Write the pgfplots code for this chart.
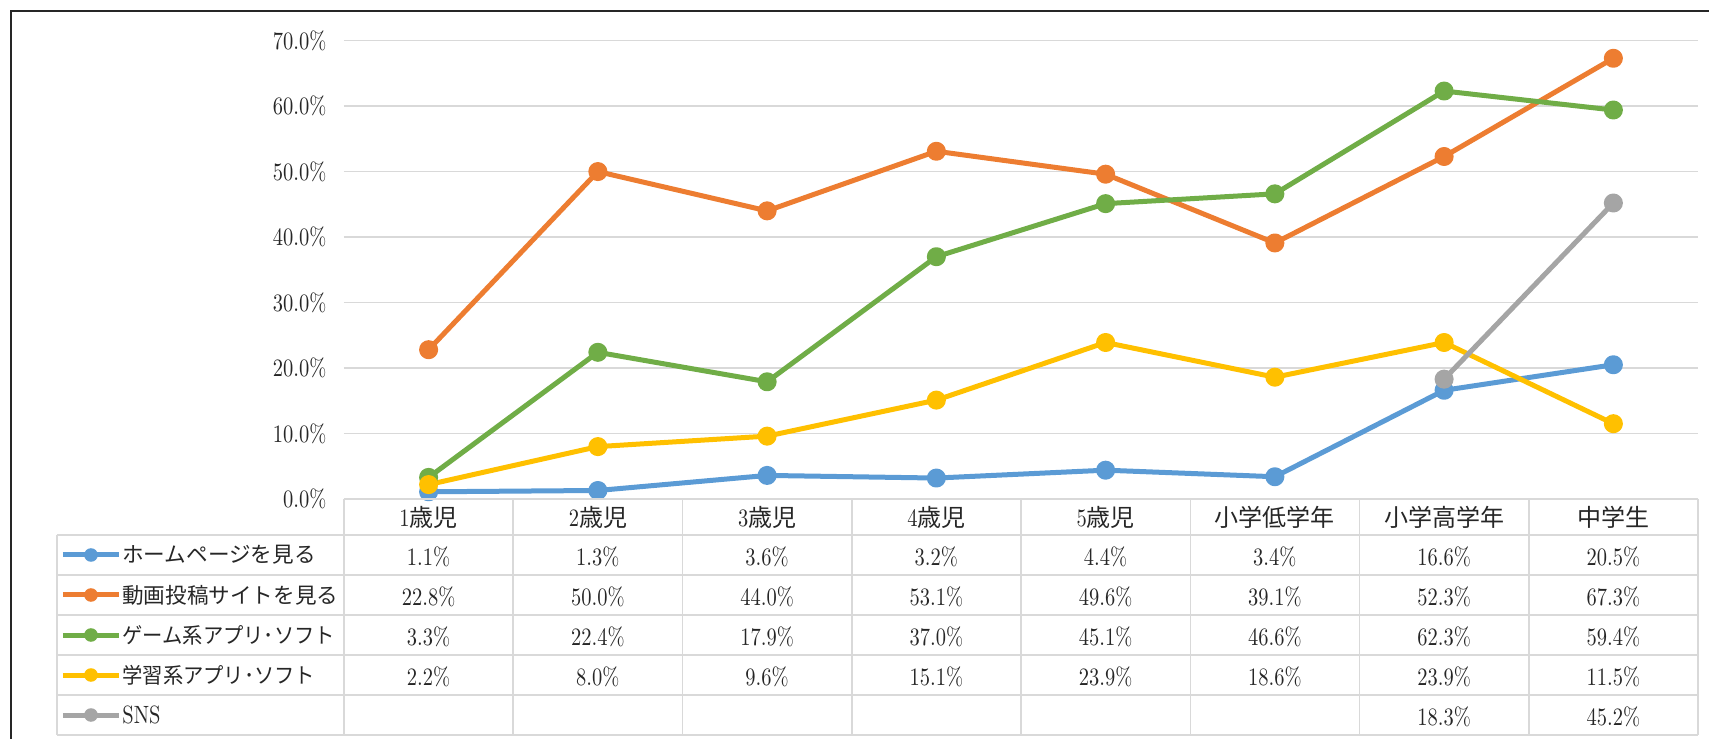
\documentclass[border=0pt]{standalone}
\usepackage{fontspec}
\usepackage{graphicx}
\usepackage{pgfplots}
\usepackage{pgfplotstable}
\pgfplotsset{compat=1.18}
\pgfkeys{/pgf/number format/assume math mode=true}
\newfontfamily\jp{Noto Sans CJK JP}
\newfontfamily\numfont{lmroman10-regular.otf}[FakeStretch=0.82]
\definecolor{cHP}{HTML}{5B9BD5}
\definecolor{cDG}{HTML}{ED7D31}
\definecolor{cGM}{HTML}{70AD47}
\definecolor{cGK}{HTML}{FFC000}
\definecolor{cSNS}{HTML}{A5A5A5}
\definecolor{gridc}{HTML}{D9D9D9}
\definecolor{textc}{HTML}{262626}

\pgfplotstableread{
x   hp   dg   gm   gk   sns
0.5 1.1  22.8 3.3  2.2  nan
1.5 1.3  50.0 22.4 8.0  nan
2.5 3.6  44.0 17.9 9.6  nan
3.5 3.2  53.1 37.0 15.1 nan
4.5 4.4  49.6 45.1 23.9 nan
5.5 3.4  39.1 46.6 18.6 nan
6.5 16.6 52.3 62.3 23.9 18.3
7.5 20.5 67.3 59.4 11.5 45.2
}\data

\def\nanstr{nan}
\def\cw{84.625}
\newcommand\nf{\numfont\fontsize{12.5}{15}\selectfont}
\newcommand\hf{\jp\fontsize{12}{15}\selectfont}
\newcommand\lf{\jp\fontsize{10.8}{14}\selectfont}

\begin{document}
\begin{tikzpicture}[font=\nf, text=textc]
\useasboundingbox (-172pt,-120pt) rectangle (682.5pt,249.5pt);
% outer frame (partly cropped)
\draw[line width=1.2pt, black!85] (-166.5pt,-125pt) -- (-166.5pt,244pt) -- (690pt,244pt);

\begin{axis}[
  at={(0,0)}, anchor=south west,
  scale only axis, width=677pt, height=229.2pt,
  xmin=0, xmax=8, ymin=0, ymax=70,
  axis line style={draw=none},
  xtick=\empty,
  ytick={0,10,...,70},
  ymajorgrids,
  grid style={color=gridc, line width=0.75pt},
  major tick length=0pt,
  tick label style={font=\nf, text=textc},
  yticklabel={\pgfmathprintnumber[fixed,fixed zerofill,precision=1]{\tick}\%},
  yticklabel style={xshift=-5.3pt},
  clip=false,
  every axis plot/.append style={line width=2.5pt, line join=round, mark=*, mark size=3.5pt, mark options={solid}},
]
\addplot[cHP, mark options={fill=cHP, draw=cHP}] table[x=x,y=hp]{\data};
\addplot[cDG, mark options={fill=cDG, draw=cDG}] table[x=x,y=dg]{\data};
\addplot[cGM, mark options={fill=cGM, draw=cGM}] table[x=x,y=gm]{\data};
\addplot[cGK, mark options={fill=cGK, draw=cGK}] table[x=x,y=gk]{\data};
\addplot[cSNS, mark options={fill=cSNS, draw=cSNS}] table[x=x,y=sns]{\data};
\end{axis}

% data table grid
\begin{scope}[gridc, line width=0.75pt]
  \draw (0pt,0pt) -- (677pt,0pt);
  \foreach \yy in {-18,-38,-58,-78,-98,-118}
    \draw (-143.5pt,\yy pt) -- (677pt,\yy pt);
  \draw (-143.5pt,-18pt) -- (-143.5pt,-118pt);
  \foreach \k in {0,...,8}
    \draw ({\k*\cw pt},0pt) -- ({\k*\cw pt},-118pt);
\end{scope}

% header row
\foreach \nm [count=\i from 0] in {1{\hf 歳児},2{\hf 歳児},3{\hf 歳児},4{\hf 歳児},5{\hf 歳児},{\hf 小学低学年},{\hf 小学高学年},{\hf 中学生}}
  \node at ({(\i+0.5)*\cw pt},-9pt) {\nm};

% values
\foreach \col/\rowy in {hp/-29, dg/-49, gm/-69, gk/-89, sns/-109} {
  \foreach \rr in {0,...,7} {
    \pgfplotstablegetelem{\rr}{\col}\of\data
    \edef\val{\pgfplotsretval}
    \ifx\val\nanstr\else
      \node at ({(\rr+0.5)*\cw pt},\rowy pt) {\pgfmathprintnumber[fixed,fixed zerofill,precision=1]{\val}\%};
    \fi
  }
}

% legend keys
\foreach \cc/\rowy/\lab in {cHP/-28/{\lf ホームページを見る}, cDG/-48/{\lf 動画投稿サイトを見る}, cGM/-68/{\scalebox{0.94}[1]{\lf ゲーム系アプリ･ソフト}}, cGK/-88/{\scalebox{0.94}[1]{\lf 学習系アプリ･ソフト}}, cSNS/-108/SNS} {
  \draw[\cc, line width=2.5pt] (-140.5pt,\rowy pt) -- (-112.5pt,\rowy pt);
  \fill[\cc] (-126.5pt,\rowy pt) circle (3.4pt);
  \node[anchor=west, inner sep=0pt] at (-111pt,\rowy pt) {\lab};
}
\end{tikzpicture}
\end{document}
